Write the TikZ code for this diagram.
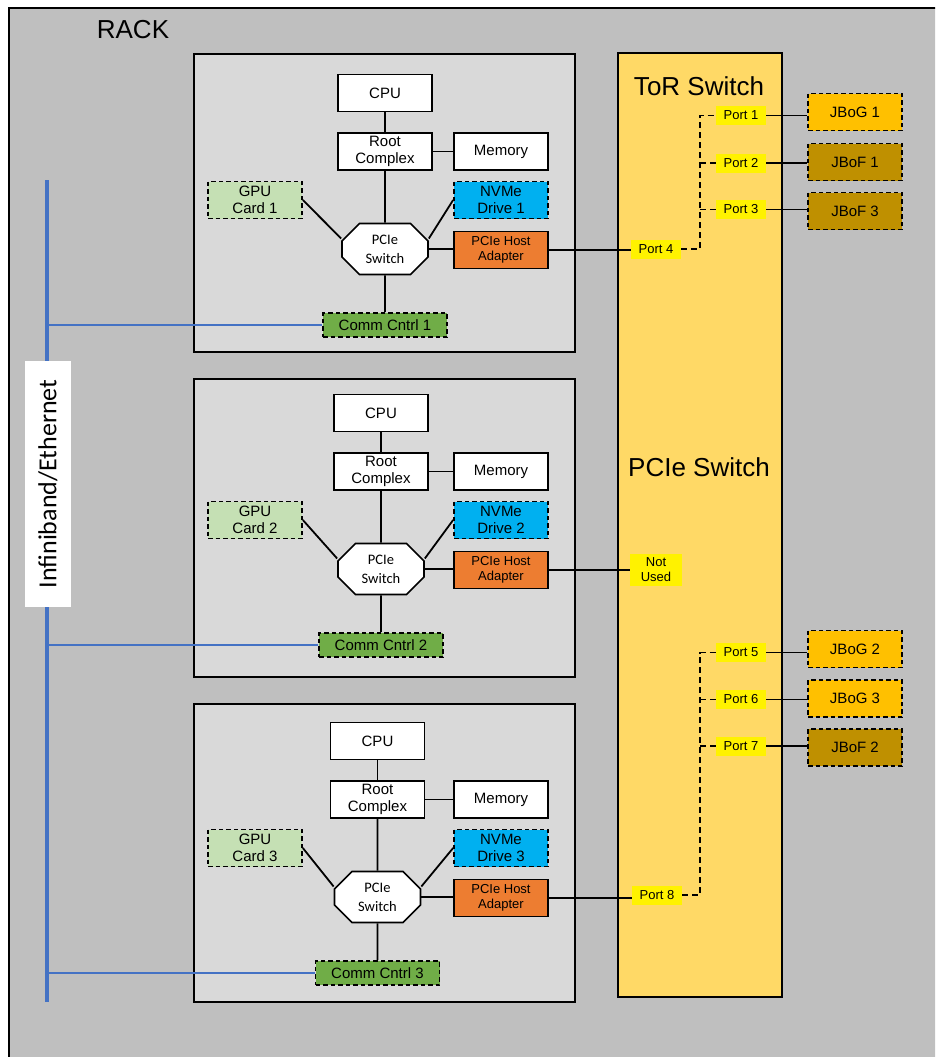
\documentclass[tikz,border=0pt]{standalone}
\usepackage{fontspec}
\setmainfont{Liberation Sans}
\newfontfamily\carlito{Carlito}
\usetikzlibrary{shapes.misc}

\definecolor{rackgray}{HTML}{BFBFBF}
\definecolor{srvgray}{HTML}{D9D9D9}
\definecolor{torfill}{HTML}{FFD966}
\definecolor{gpugreen}{HTML}{C5E0B4}
\definecolor{nvmeblue}{HTML}{00B0F0}
\definecolor{hostorange}{HTML}{ED7D31}
\definecolor{commgreen}{HTML}{70AD47}
\definecolor{jbogfill}{HTML}{FFC000}
\definecolor{jboffill}{HTML}{BF9000}
\definecolor{busblue}{HTML}{4472C4}

\tikzset{
	box/.style={draw, line width=1.7pt, fill=white, minimum width=94pt, minimum height=37pt, inner sep=0pt, align=center, font=\fontsize{15}{17}\selectfont},
	dbox/.style={box, dash pattern=on 4.5pt off 3pt},
	srv/.style={draw, line width=1.9pt, fill=srvgray, minimum width=381pt, minimum height=298pt},
	pcisw/.style={chamfered rectangle, chamfered rectangle xsep=14pt, draw, line width=1.7pt, fill=white, minimum width=86pt, minimum height=51pt, inner sep=0pt, align=center, font=\carlito\fontsize{14.5}{19}\selectfont},
	host/.style={box, fill=hostorange, font=\fontsize{13}{14.5}\selectfont},
	comm/.style={dbox, fill=commgreen, minimum width=124pt, minimum height=24pt},
	port/.style={fill=yellow, minimum width=50pt, minimum height=19pt, inner sep=0pt, align=center, font=\fontsize{13}{15}\selectfont},
	link/.style={line width=1.8pt},
	tree/.style={line width=1.8pt, dash pattern=on 6pt off 4pt},
	bigtxt/.style={font=\fontsize{26}{30}\selectfont}
}

\begin{document}
\begin{tikzpicture}[x=1pt, y=-1pt]
		\clip (0,0) rectangle (935,1057);
		\def\trunkx{700}
		\def\jbx{855}
		% rack
			\draw [line width=1.5pt, fill=rackgray] (9,8) rectangle (950,1070);
			\node [bigtxt] (rack) at (133,30) {RACK};
		% infiniband/ethernet bus
			\coordinate (bustop) at (47,180);
			\coordinate (busbot) at (47,1002);
			\draw [busblue, line width=3.8pt] (bustop) -- (busbot);
			\node [fill=white, rotate=90, minimum width=246pt, minimum height=46pt, font=\carlito\fontsize{26}{30}\selectfont] (buslbl) at (48,484) {Infiniband/Ethernet};
		% servers
		\foreach \i/\b/\c/\t in {1/54/385/93, 2/379/381/413, 3/704/377.5/741} {
			\node [srv] (srv\i) at (384.5,\b+149) {};
			\node [box] (cpu\i) at (\c,\t) {CPU};
			\node [box] (rc\i) at (\c,\t+58.5) {Root\\Complex};
			\node [box] (mem\i) at (501,\t+58.5) {Memory};
			\node [dbox, fill=gpugreen] (gpu\i) at (255,\t+107) {GPU\\Card \i};
			\node [dbox, fill=nvmeblue] (nvme\i) at (501,\t+107) {NVMe\\Drive \i};
			\node [pcisw] (sw\i) at (\c,\t+156) {PCIe\\Switch};
			\node [host] (ha\i) at (501,\t+157) {PCIe Host\\Adapter};
			\node [comm] (comm\i) at (\c,\t+232) {Comm Cntrl \i};
			\draw [link] (cpu\i) -- (rc\i);
			\draw [link] (rc\i) -- (mem\i);
			\draw [link] (rc\i) -- (sw\i);
			\draw [link] (gpu\i.east) -- ([yshift=10.5pt]sw\i.west);
			\draw [link] (nvme\i.west) -- ([yshift=10.5pt]sw\i.east);
			\draw [link] (sw\i.east) -- (sw\i.east -| ha\i.west);
			\draw [link] (sw\i) -- (comm\i);
			\draw [busblue, line width=2pt] (comm\i.west) -- (comm\i.west -| bustop);
		}
		% ToR switch
			\node [draw, line width=1.9pt, fill=torfill, minimum width=164pt, minimum height=944pt] (tor) at (700,525) {};
			\node [bigtxt] (torlbl) at (699,86) {ToR Switch};
			\node [bigtxt] (pcielbl) at (699,467) {PCIe Switch};
		% ports
			\node [port] (p1) at (741,115.5) {Port 1};
			\node [port] (p2) at (741,163) {Port 2};
			\node [port] (p3) at (741,209.5) {Port 3};
			\node [port] (p4) at (656,249) {Port 4};
			\node [port, minimum height=32pt, minimum width=52pt] (nu) at (656,569.5) {Not\\Used};
			\node [port] (p5) at (741,652.5) {Port 5};
			\node [port] (p6) at (741,699.5) {Port 6};
			\node [port] (p7) at (741,746) {Port 7};
			\node [port] (p8) at (657,895) {Port 8};
			\coordinate (trunk) at (\trunkx,0);
		% JBOGs and JBOFs
			\node [dbox, fill=jbogfill] (jbog1) at (\jbx,112) {JBoG 1};
			\node [dbox, fill=jboffill] (jbof1) at (\jbx,162) {JBoF 1};
			\node [dbox, fill=jboffill] (jbof3) at (\jbx,211) {JBoF 3};
			\node [dbox, fill=jbogfill] (jbog2) at (\jbx,649) {JBoG 2};
			\node [dbox, fill=jbogfill] (jbog3) at (\jbx,698.5) {JBoG 3};
			\node [dbox, fill=jboffill] (jbof2) at (\jbx,747.5) {JBoF 2};
		% host adapters to ports
			\draw [link] (ha1.east) -- (ha1.east -| p4.west);
			\draw [link] (ha2.east) -- (ha2.east -| nu.west);
			\draw [link] (ha3.east) -- (ha3.east -| p8.west);
		% internal routing
			\draw [tree] (p4.east) -- (p4.east -| trunk) |- (p1.west);
			\draw [tree] (p2.west -| trunk) -- (p2.west);
			\draw [tree] (p3.west -| trunk) -- (p3.west);
			\draw [tree] (p8.east) -- (p8.east -| trunk) |- (p5.west);
			\draw [tree] (p6.west -| trunk) -- (p6.west);
			\draw [tree] (p7.west -| trunk) -- (p7.west);
		% ports to boxes
			\draw [link] (p1.east) -- (p1.east -| jbog1.west);
			\draw [link] (p2.east) -- (p2.east -| jbof1.west);
			\draw [link] (p3.east) -- (p3.east -| jbof3.west);
			\draw [link] (p5.east) -- (p5.east -| jbog2.west);
			\draw [link] (p6.east) -- (p6.east -| jbog3.west);
			\draw [link] (p7.east) -- (p7.east -| jbof2.west);
	\end{tikzpicture}
\end{document}
